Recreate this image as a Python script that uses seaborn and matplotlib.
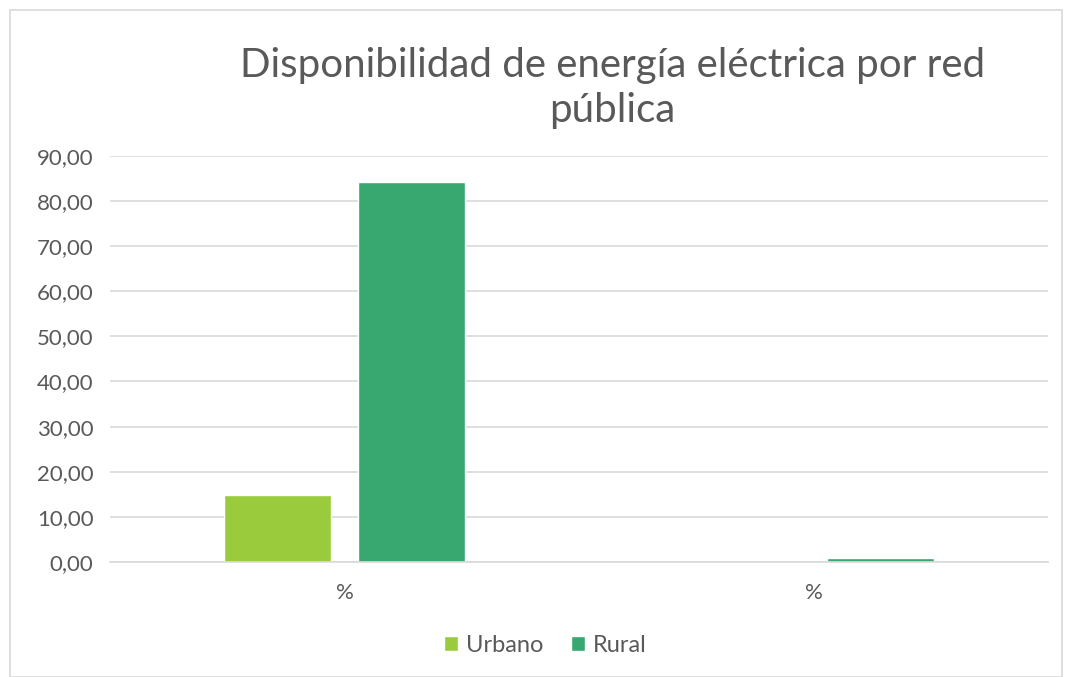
import pandas as pd
import matplotlib.pyplot as plt
import seaborn as sns
from matplotlib.patches import Rectangle
from matplotlib.ticker import FuncFormatter

# chart data
groups = ["g1", "g2"]
tick_labels = ["%", "%"]
urbano = [14.86, 0.0]
rural = [84.25, 0.8]

df = pd.DataFrame({
    "grupo": groups * 2,
    "zona": ["Urbano"] * 2 + ["Rural"] * 2,
    "valor": urbano + rural,
})

sns.set_style("white")
plt.rcParams["font.family"] = ["Lato", "DejaVu Sans"]
text_color = "#595959"

fig = plt.figure(figsize=(10.65, 6.77), dpi=100)
ax = fig.add_axes([0.1033, 0.170, 0.8807, 0.5996])

sns.barplot(data=df, x="grupo", y="valor", hue="zona", order=groups,
            hue_order=["Urbano", "Rural"],
            palette={"Urbano": "#9acb3c", "Rural": "#38a770"},
            width=0.57, gap=0.2, saturation=1, ax=ax, legend=True)

ax.set_ylim(0, 90)
ax.set_yticks(range(0, 91, 10))
ax.yaxis.set_major_formatter(FuncFormatter(lambda v, p: f"{v:.2f}".replace(".", ",")))
ax.set_xticks(range(len(groups)))
ax.set_xticklabels(tick_labels)
ax.set_xlabel("")
ax.set_ylabel("")
ax.grid(axis="y", color="#d9d9d9", linewidth=1.2)
ax.set_axisbelow(True)
for s in ["left", "right", "top"]:
    ax.spines[s].set_visible(False)
ax.spines["bottom"].set_color("#d9d9d9")
ax.spines["bottom"].set_linewidth(1.2)
ax.tick_params(axis="both", length=0, labelsize=16, colors=text_color, pad=12)
ax.tick_params(axis="x", pad=15)

# legend at the bottom
handles, labels = ax.get_legend_handles_labels()
ax.legend_.remove()
fig.legend(handles, labels, loc="center", bbox_to_anchor=(0.512, 0.047), ncol=2,
           frameon=False, fontsize=17, labelcolor=text_color, handlelength=0.6,
           handleheight=0.6, handletextpad=0.3, columnspacing=1.2)

fig.text(0.575, 0.870, "Disponibilidad de energía eléctrica por red\npública",
         ha="center", va="center", fontsize=29, color=text_color, linespacing=1.25)

# chart border
fig.patches.append(Rectangle((0.009, 0.0), 0.988, 0.985, transform=fig.transFigure,
                             fill=False, edgecolor="#d9d9d9", linewidth=1.2))

fig.savefig("out.png", dpi=100)
